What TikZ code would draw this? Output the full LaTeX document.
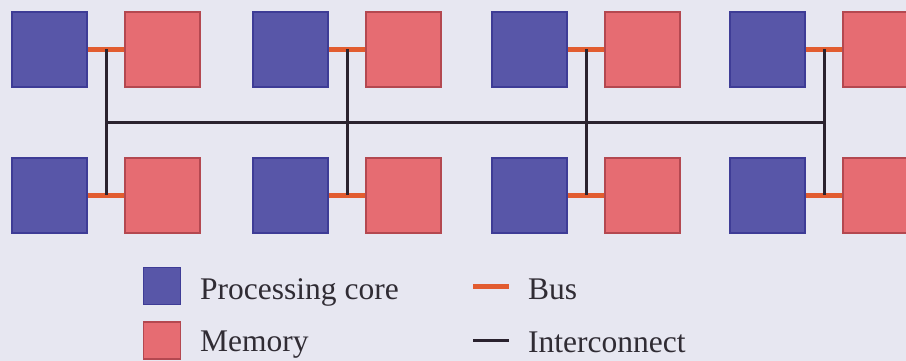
\documentclass[tikz,border=0pt]{standalone}
\usepackage{fontspec}
\setmainfont{Liberation Serif}
\usepackage{tikz}
\usetikzlibrary{positioning}
\definecolor{paper}{RGB}{231,231,241}
\definecolor{corefill}{RGB}{88,86,168}
\definecolor{coreline}{RGB}{62,60,150}
\definecolor{memfill}{RGB}{230,108,114}
\definecolor{memline}{RGB}{180,72,80}
\definecolor{buscol}{RGB}{226,92,48}
\definecolor{linkcol}{RGB}{42,34,46}
\definecolor{inkcol}{RGB}{48,44,52}
\tikzstyle{core} = [draw=coreline, fill=corefill, line width=1.5pt, minimum size=75pt, inner sep=0pt]
\tikzstyle{memory} = [draw=memline, fill=memfill, line width=1.5pt, minimum size=75pt, inner sep=0pt]
\tikzstyle{bus} = [draw=buscol, line width=5pt]
\tikzstyle{interconnect} = [draw=linkcol, line width=3pt]
\tikzstyle{legendtext} = [anchor=base west, inner sep=0pt, text=inkcol, font=\fontsize{31.5}{38}\selectfont]

\begin{document}
\begin{tikzpicture}[x=1pt, y=1pt]
	\fill[paper] (0,0) rectangle (906,361);
	\clip (0,0) rectangle (906,361);
	% top row
	\node[core] (c1) at (49.5,311.5) {};
	\node[memory, right=36.5pt of c1] (m1) {};
	\node[core] (c2) at (290.5,311.5) {};
	\node[memory, right=36.5pt of c2] (m2) {};
	\node[core] (c3) at (529.5,311.5) {};
	\node[memory, right=36.5pt of c3] (m3) {};
	\node[core] (c4) at (767.5,311.5) {};
	\node[memory, right=36.5pt of c4] (m4) {};
	% bottom row
	\node[core] (c5) at (49.5,165.5) {};
	\node[memory, right=36.5pt of c5] (m5) {};
	\node[core] (c6) at (290.5,165.5) {};
	\node[memory, right=36.5pt of c6] (m6) {};
	\node[core] (c7) at (529.5,165.5) {};
	\node[memory, right=36.5pt of c7] (m7) {};
	\node[core] (c8) at (767.5,165.5) {};
	\node[memory, right=36.5pt of c8] (m8) {};
	% buses
	\draw[bus] (c1) -- coordinate (j1) (m1);
	\draw[bus] (c2) -- coordinate (j2) (m2);
	\draw[bus] (c3) -- coordinate (j3) (m3);
	\draw[bus] (c4) -- coordinate (j4) (m4);
	\draw[bus] (c5) -- coordinate (j5) (m5);
	\draw[bus] (c6) -- coordinate (j6) (m6);
	\draw[bus] (c7) -- coordinate (j7) (m7);
	\draw[bus] (c8) -- coordinate (j8) (m8);
	% interconnect
	\draw[interconnect] (j1) -- coordinate (k1) (j5);
	\draw[interconnect] (j2) -- (j6);
	\draw[interconnect] (j3) -- (j7);
	\draw[interconnect] (j4) -- coordinate (k4) (j8);
	\draw[interconnect] (k1) -- (k4);
	% legend
	\node[core, minimum size=37pt] (lcore) at (162,75) {};
	\node[memory, minimum size=37pt] (lmem) at (162,20.5) {};
	\node[legendtext] (tcore) at (200,61.5) {Processing core};
	\node[legendtext] (tmem) at (200,9) {Memory};
	\coordinate (lbus0) at (473,74);
	\coordinate (lbus1) at (509,74);
	\draw[bus] (lbus0) -- (lbus1);
	\coordinate (llink0) at (473,20);
	\coordinate (llink1) at (509,20);
	\draw[interconnect] (llink0) -- (llink1);
	\node[legendtext] (tbus) at (528,61.5) {Bus};
	\node[legendtext] (tlink) at (528,8.5) {Interconnect};
\end{tikzpicture}
\end{document}
